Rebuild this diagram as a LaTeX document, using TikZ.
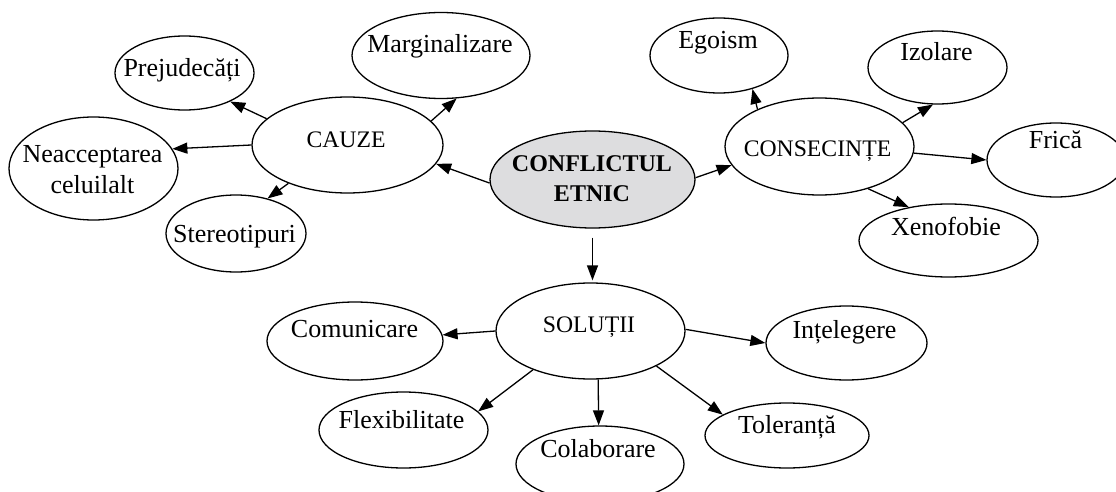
\documentclass[tikz,border=0pt]{standalone}
\usepackage{fontspec}
\setmainfont{Liberation Serif}
\usetikzlibrary{shapes.geometric,arrows.meta}
\definecolor{confgray}{RGB}{221,221,223}
\tikzset{
  ell/.style={ellipse, draw=black, line width=1.3pt, inner sep=0pt},
  leaf/.style={anchor=base, inner sep=0pt, font=\fontsize{26}{31}\selectfont},
  cat/.style={anchor=base, inner sep=0pt, font=\fontsize{23.7}{28}\selectfont},
  arr/.style={line width=1.3pt, -{Triangle[length=15pt,width=11pt]}},
}
\begin{document}
\begin{tikzpicture}[x=1pt,y=-1pt]
\useasboundingbox (0,0) rectangle (1116,492);
\clip (0,0) rectangle (1116,492);
% ellipses
\node[ell, minimum width=139pt, minimum height=74pt] (prej) at (184.5,73) {};
\node[ell, minimum width=178pt, minimum height=86pt] (marg) at (441,55.5) {};
\node[ell, minimum width=169pt, minimum height=103pt] (neac) at (93.5,168.5) {};
\node[ell, minimum width=191pt, minimum height=96pt] (cauze) at (347.5,145) {};
\node[ell, minimum width=140pt, minimum height=77pt] (stereo) at (236,233.5) {};
\node[ell, fill=confgray, minimum width=205pt, minimum height=97pt] (conf) at (592.5,179.5) {};
\node[ell, minimum width=138pt, minimum height=75pt] (ego) at (719,55.5) {};
\node[ell, minimum width=189pt, minimum height=97pt] (cons) at (819.5,146.5) {};
\node[ell, minimum width=139pt, minimum height=73pt] (izo) at (937.5,67.5) {};
\node[ell, minimum width=138pt, minimum height=74pt] (frica) at (1056,160) {};
\node[ell, minimum width=179pt, minimum height=73pt] (xeno) at (948.5,240.5) {};
\node[ell, minimum width=189pt, minimum height=96pt] (sol) at (590.5,331) {};
\node[ell, minimum width=176pt, minimum height=78pt] (com) at (355,341) {};
\node[ell, minimum width=169pt, minimum height=76pt] (flex) at (403.5,430) {};
\node[ell, minimum width=168pt, minimum height=76pt] (colab) at (600,464) {};
\node[ell, minimum width=161pt, minimum height=74pt] (int) at (846.5,343) {};
\node[ell, minimum width=164pt, minimum height=65pt] (tol) at (787,435.5) {};
% texts
\node[leaf] (prej-t) at (182,77) {Prejudecăți};
\node[leaf] (marg-t) at (440,53) {Marginalizare};
\node[align=center, inner sep=0pt, font=\fontsize{26}{31}\selectfont] (neac-t) at (92.5,170) {Neacceptarea\\celuilalt};
\node[cat] (cauze-t) at (346,147) {CAUZE};
\node[leaf] (stereo-t) at (234.5,242) {Stereotipuri};
\node[align=center, inner sep=0pt, font=\fontsize{24}{30}\selectfont\bfseries] (conf-t) at (592,179) {CONFLICTUL\\ETNIC};
\node[leaf] (ego-t) at (718,49) {Egoism};
\node[cat] (cons-t) at (817.5,157) {CONSECINȚE};
\node[leaf] (izo-t) at (936.5,61) {Izolare};
\node[leaf] (frica-t) at (1055.5,148) {Frică};
\node[leaf] (xeno-t) at (946,235) {Xenofobie};
\node[cat] (sol-t) at (589,332) {SOLUȚII};
\node[leaf] (com-t) at (354.5,337) {Comunicare};
\node[leaf] (flex-t) at (401.5,428) {Flexibilitate};
\node[leaf] (colab-t) at (598,457) {Colaborare};
\node[leaf] (int-t) at (844.5,338) {Ințelegere};
\node[leaf] (tol-t) at (787,433) {Toleranță};
% connectors
\draw[arr] (cauze.162) -- (prej.-32);
\draw[arr] (cauze.180) -- (neac.14);
\draw[arr] (cauze.-147) -- (stereo.48);
\draw[arr] (cauze.16) -- (marg.-70);
\draw[arr] (conf.-178) -- (cauze.-12);
\draw[arr] (conf.1) -- (cons.-168);
\draw[arr] (cons.149) -- (ego.-45);
\draw[arr] (cons.16) -- (izo.-97);
\draw[arr] (cons.-4) -- (frica.180);
\draw[arr] (cons.-41) -- (xeno.140);
\draw[arr, shorten <=9pt, shorten >=2pt] (conf.south) -- (conf.south |- sol.north);
\draw[arr] (sol.180) -- (com.4);
\draw[arr] (sol.-146) -- (flex.14);
\draw[arr] (sol.-81) -- (colab.92);
\draw[arr] (sol.1) -- (int.180);
\draw[arr] (sol.-28) -- (tol.162);
\end{tikzpicture}
\end{document}
